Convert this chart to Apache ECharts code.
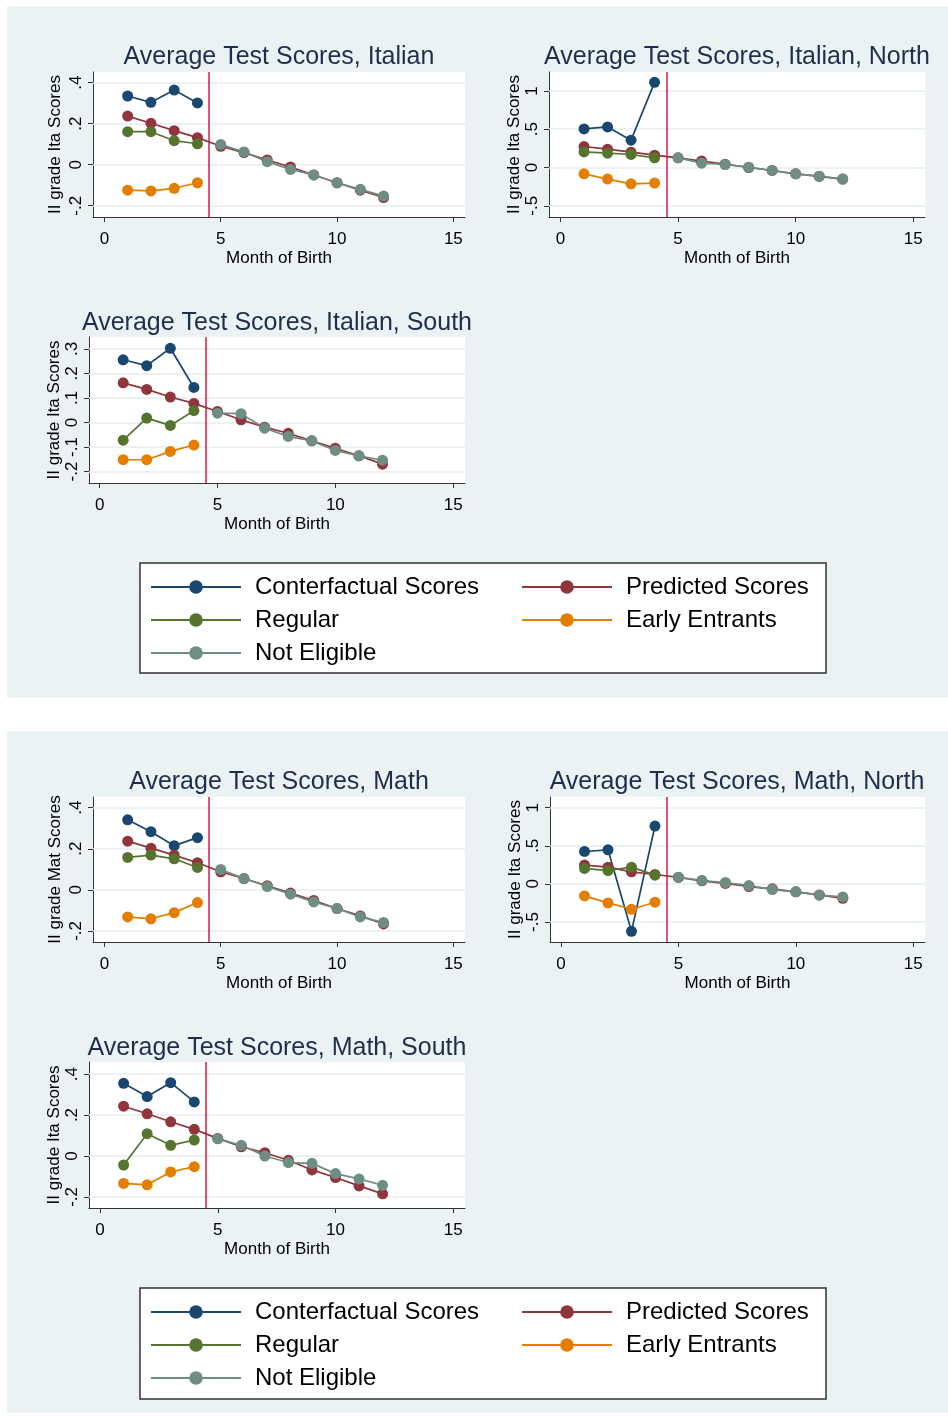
<!DOCTYPE html>
<html>
<head>
<meta charset="utf-8">
<script src="https://cdn.jsdelivr.net/npm/echarts@6/dist/echarts.min.js"></script>
<style>
html,body{margin:0;padding:0;background:#fff;}
#chart{width:948px;height:1416px;}
</style>
</head>
<body>
<div id="chart"></div>
<script>
// ---------- DATA ----------
const monthsEarly = [1, 2, 3, 4];
const monthsAll = [1, 2, 3, 4, 5, 6, 7, 8, 9, 10, 11, 12];
const monthsLate = [5, 6, 7, 8, 9, 10, 11, 12];
const cutoffMonth = 4.5;
const xTicks = [0, 5, 10, 15];
const yTicksA = [-0.2, 0, 0.2, 0.4];
const yTicksN = [-0.5, 0, 0.5, 1];
const yTicksS = [-0.2, -0.1, 0, 0.1, 0.2, 0.3];
const seriesNames = ['Conterfactual Scores', 'Predicted Scores', 'Regular', 'Early Entrants', 'Not Eligible'];

// Italian
const itaCF = [0.335, 0.304, 0.364, 0.301];
const itaPred = [0.237, 0.202, 0.166, 0.132, 0.090, 0.059, 0.023, -0.011, -0.050, -0.088, -0.124, -0.160];
const itaReg = [0.161, 0.161, 0.117, 0.102];
const itaEarly = [-0.124, -0.128, -0.115, -0.088];
const itaNE = [0.099, 0.062, 0.015, -0.023, -0.050, -0.088, -0.120, -0.153];
// Italian, North
const itaNorthCF = [0.504, 0.530, 0.357, 1.113];
const itaNorthPred = [0.274, 0.239, 0.200, 0.161, 0.126, 0.085, 0.043, 0.000, -0.039, -0.083, -0.117, -0.152];
const itaNorthReg = [0.204, 0.187, 0.170, 0.126];
const itaNorthEarly = [-0.083, -0.152, -0.213, -0.204];
const itaNorthNE = [0.126, 0.057, 0.039, 0.004, -0.039, -0.083, -0.113, -0.152];
// Italian, South
const itaSouthCF = [0.256, 0.232, 0.303, 0.143];
const itaSouthPred = [0.162, 0.135, 0.104, 0.078, 0.045, 0.011, -0.019, -0.044, -0.075, -0.105, -0.136, -0.170];
const itaSouthReg = [-0.072, 0.018, -0.012, 0.048];
const itaSouthEarly = [-0.152, -0.152, -0.118, -0.092];
const itaSouthNE = [0.038, 0.036, -0.023, -0.057, -0.075, -0.114, -0.136, -0.154];
// Math
const matCF = [0.341, 0.283, 0.215, 0.254];
const matPred = [0.237, 0.203, 0.169, 0.132, 0.088, 0.055, 0.020, -0.016, -0.052, -0.091, -0.127, -0.166];
const matReg = [0.158, 0.169, 0.151, 0.109];
const matEarly = [-0.132, -0.141, -0.111, -0.062];
const matNE = [0.099, 0.055, 0.016, -0.021, -0.059, -0.091, -0.132, -0.159];
// Math, North
const matNorthCF = [0.425, 0.447, -0.623, 0.759];
const matNorthPred = [0.246, 0.219, 0.158, 0.123, 0.085, 0.040, 0.005, -0.035, -0.065, -0.105, -0.145, -0.190];
const matNorthReg = [0.202, 0.175, 0.219, 0.114];
const matNorthEarly = [-0.158, -0.250, -0.333, -0.241];
const matNorthNE = [0.088, 0.044, 0.018, -0.022, -0.075, -0.105, -0.149, -0.171];
// Math, South
const matSouthCF = [0.355, 0.290, 0.358, 0.264];
const matSouthPred = [0.243, 0.206, 0.167, 0.130, 0.086, 0.045, 0.016, -0.021, -0.068, -0.105, -0.146, -0.185];
const matSouthReg = [-0.044, 0.109, 0.052, 0.078];
const matSouthEarly = [-0.134, -0.141, -0.078, -0.052];
const matSouthNE = [0.084, 0.052, 0.000, -0.032, -0.036, -0.086, -0.112, -0.143];

// ---------- LAYOUT / STYLE ----------
const FONT = 'Liberation Sans, Arial, Helvetica, sans-serif';
const COLORS = ['#1a476f', '#90353b', '#55752f', '#e37e00', '#6e8e84'];
const AXIS_COLOR = '#333333';
const GRID_LINE = '#e4edf0';
const XLINE = '#d01c45';
const BG = '#eaf2f3';

const panels = [
  {title: 'Average Test Scores, Italian', yName: 'II grade Ita Scores', box: {left: 93, top: 72, width: 372, height: 145}, xr: [-0.49, 15.5], yr: [-0.255, 0.452], yt: yTicksA, nameGap: 29, titleX: 279, titleY: 55,
   data: [itaCF, itaPred, itaReg, itaEarly, itaNE]},
  {title: 'Average Test Scores, Italian, North', yName: 'II grade Ita Scores', box: {left: 549, top: 72, width: 376, height: 145}, xr: [-0.49, 15.5], yr: [-0.647, 1.248], yt: yTicksN, nameGap: 25, titleX: 737, titleY: 55,
   data: [itaNorthCF, itaNorthPred, itaNorthReg, itaNorthEarly, itaNorthNE]},
  {title: 'Average Test Scores, Italian, South', yName: 'II grade Ita Scores', box: {left: 89, top: 337, width: 376, height: 146}, xr: [-0.45, 15.5], yr: [-0.247, 0.349], yt: yTicksS, nameGap: 25, titleX: 277, titleY: 321,
   data: [itaSouthCF, itaSouthPred, itaSouthReg, itaSouthEarly, itaSouthNE]},
  {title: 'Average Test Scores, Math', yName: 'II grade Mat Scores', box: {left: 93, top: 797, width: 372, height: 145}, xr: [-0.49, 15.5], yr: [-0.254, 0.452], yt: yTicksA, nameGap: 29, titleX: 279, titleY: 780,
   data: [matCF, matPred, matReg, matEarly, matNE]},
  {title: 'Average Test Scores, Math, North', yName: 'II grade Ita Scores', box: {left: 550, top: 797, width: 375, height: 145}, xr: [-0.47, 15.5], yr: [-0.763, 1.14], yt: yTicksN, nameGap: 25, titleX: 737, titleY: 780,
   data: [matNorthCF, matNorthPred, matNorthReg, matNorthEarly, matNorthNE]},
  {title: 'Average Test Scores, Math, South', yName: 'II grade Ita Scores', box: {left: 89, top: 1062, width: 376, height: 146}, xr: [-0.47, 15.5], yr: [-0.254, 0.459], yt: yTicksA, nameGap: 25, titleX: 277, titleY: 1046,
   data: [matSouthCF, matSouthPred, matSouthReg, matSouthEarly, matSouthNE]}
];

function fmt(v) {
  const s = String(+(+v).toFixed(3));
  return s.replace(/^(-?)0\./, '$1.');
}

const grids = [], xAxes = [], yAxes = [], series = [], titles = [];
panels.forEach((p, i) => {
  grids.push(Object.assign({show: true, backgroundColor: '#ffffff', borderWidth: 0, containLabel: false}, p.box));
  titles.push({text: p.title, left: p.titleX, top: p.titleY - 10, textAlign: 'center', padding: 0,
    textStyle: {fontFamily: FONT, fontSize: 25, fontWeight: 'normal', color: '#1e2f4d'}});
  xAxes.push({type: 'value', gridIndex: i, min: p.xr[0], max: p.xr[1],
    name: 'Month of Birth', nameLocation: 'middle', nameGap: 33,
    nameTextStyle: {fontFamily: FONT, fontSize: 17, color: '#000'},
    axisLine: {show: true, onZero: false, lineStyle: {color: AXIS_COLOR, width: 1}},
    axisTick: {show: true, length: 5, customValues: xTicks, lineStyle: {color: AXIS_COLOR}},
    axisLabel: {customValues: xTicks, margin: 14, fontFamily: FONT, fontSize: 17, color: '#000', formatter: fmt},
    splitLine: {show: false}});
  yAxes.push({type: 'value', gridIndex: i, min: p.yr[0], max: p.yr[1],
    name: p.yName, nameLocation: 'middle', nameGap: p.nameGap, nameRotate: 90,
    nameTextStyle: {fontFamily: FONT, fontSize: 17, color: '#000'},
    axisLine: {show: true, onZero: false, lineStyle: {color: AXIS_COLOR, width: 1}},
    axisTick: {show: true, length: 5, customValues: p.yt, lineStyle: {color: AXIS_COLOR}},
    axisLabel: {customValues: p.yt, rotate: 90, margin: 8, fontFamily: FONT, fontSize: 17, color: '#000', formatter: fmt},
    splitLine: {show: false}});
  // gridlines and cutoff line (kept below the data)
  series.push({type: 'line', xAxisIndex: i, yAxisIndex: i, data: [], z: 1, silent: true,
    markLine: {silent: true, z: 1, symbol: ['none', 'none'], animation: false, label: {show: false},
      data: p.yt.map(v => ({yAxis: v, lineStyle: {color: GRID_LINE, width: 1.5, type: 'solid'}}))
        .concat([{xAxis: cutoffMonth, lineStyle: {color: XLINE, width: 1.5, type: 'solid'}}])}});
  const xs = [monthsEarly, monthsAll, monthsEarly, monthsEarly, monthsLate];
  p.data.forEach((arr, k) => {
    series.push({type: 'line', name: seriesNames[k], xAxisIndex: i, yAxisIndex: i, z: 3,
      data: arr.map((v, j) => [xs[k][j], v]),
      symbol: 'circle', symbolSize: 11, showSymbol: true,
      color: COLORS[k],
      itemStyle: {color: COLORS[k]},
      lineStyle: {color: COLORS[k], width: 1.7},
      animation: false});
  });
});

function legendCol(names, left, top) {
  return {data: names, orient: 'vertical', left: left, top: top, padding: 0,
    itemWidth: 90, itemHeight: 17, itemGap: 9, selectedMode: false,
    textStyle: {fontFamily: FONT, fontSize: 24, lineHeight: 24, color: '#000', padding: [0, 0, 0, 9]}};
}

const option = {
  animation: false,
  backgroundColor: '#ffffff',
  title: titles,
  grid: grids,
  xAxis: xAxes,
  yAxis: yAxes,
  series: series,
  legend: [
    legendCol([seriesNames[0], seriesNames[2], seriesNames[4]], 150, 575),
    legendCol([seriesNames[1], seriesNames[3]], 521, 575),
    legendCol([seriesNames[0], seriesNames[2], seriesNames[4]], 150, 1300),
    legendCol([seriesNames[1], seriesNames[3]], 521, 1300)
  ],
  graphic: [
    {type: 'rect', z: -100, shape: {x: 7, y: 6, width: 941, height: 692}, style: {fill: BG}},
    {type: 'rect', z: -100, shape: {x: 7, y: 731, width: 941, height: 682}, style: {fill: BG}},
    {type: 'rect', z: -50, shape: {x: 140, y: 563, width: 686, height: 110}, style: {fill: '#fff', stroke: '#333', lineWidth: 1.5}},
    {type: 'rect', z: -50, shape: {x: 140, y: 1288, width: 686, height: 111}, style: {fill: '#fff', stroke: '#333', lineWidth: 1.5}}
  ]
};

const chart = echarts.init(document.getElementById('chart'), null, {renderer: 'canvas'});
chart.setOption(option);
</script>
</body>
</html>
